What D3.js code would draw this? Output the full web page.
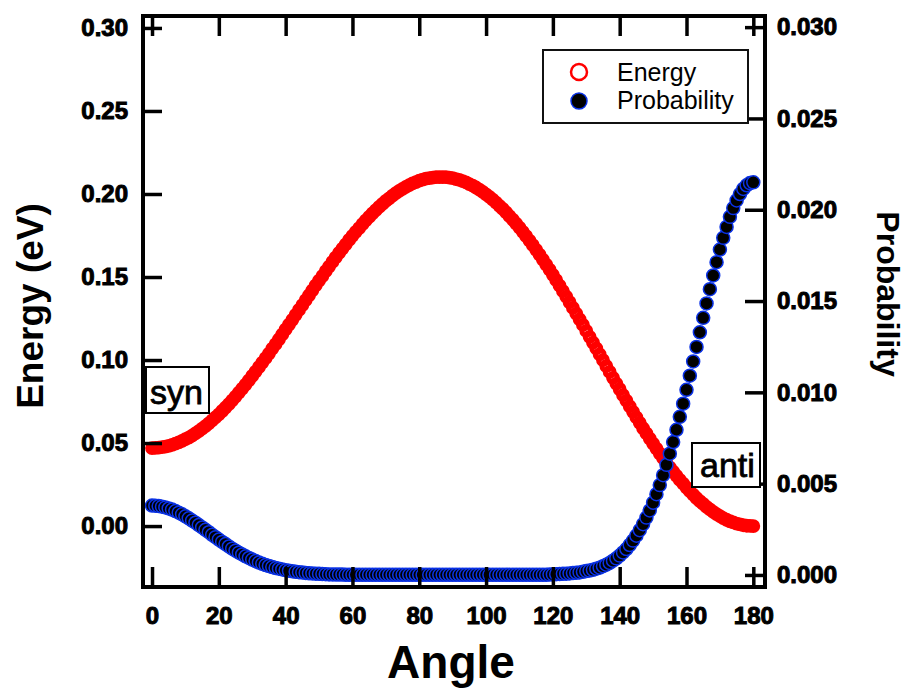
<!DOCTYPE html>
<html>
<head>
<meta charset="utf-8">
<script src="https://cdn.jsdelivr.net/npm/d3@7"></script>
<style>
  body { margin: 0; background: #fff; }
  svg { display: block; }
  text { font-family: "Liberation Sans", Arial, Helvetica, sans-serif; }
  .tick text { font-size: 24px; font-weight: bold; fill: #000; stroke: #000; stroke-width: 1px; }
  .tick line { stroke: #000; stroke-width: 3.5px; }
</style>
</head>
<body>
<svg id="chart" width="908" height="688"></svg>
<script>
// Torsion angle grid (degrees), one sample per degree
const angles = d3.range(0, 181, 1);

// Relative energy (eV) at each angle
const energy = [
  0.0470, 0.0471, 0.0472, 0.0475, 0.0479, 0.0483, 0.0489, 0.0496, 0.0504, 0.0513,
  0.0523, 0.0533, 0.0545, 0.0558, 0.0572, 0.0587, 0.0602, 0.0619, 0.0636, 0.0654,
  0.0673, 0.0693, 0.0714, 0.0735, 0.0757, 0.0780, 0.0804, 0.0828, 0.0852, 0.0878,
  0.0904, 0.0930, 0.0957, 0.0984, 0.1011, 0.1039, 0.1068, 0.1096, 0.1125, 0.1154,
  0.1184, 0.1213, 0.1242, 0.1272, 0.1302, 0.1331, 0.1361, 0.1390, 0.1420, 0.1449,
  0.1478, 0.1506, 0.1535, 0.1563, 0.1591, 0.1618, 0.1645, 0.1671, 0.1697, 0.1723,
  0.1748, 0.1772, 0.1795, 0.1818, 0.1841, 0.1862, 0.1883, 0.1903, 0.1922, 0.1940,
  0.1958, 0.1974, 0.1990, 0.2005, 0.2019, 0.2031, 0.2043, 0.2054, 0.2064, 0.2072,
  0.2080, 0.2086, 0.2092, 0.2096, 0.2099, 0.2101, 0.2102, 0.2102, 0.2101, 0.2099,
  0.2095, 0.2090, 0.2085, 0.2078, 0.2070, 0.2060, 0.2050, 0.2039, 0.2026, 0.2013,
  0.1998, 0.1983, 0.1966, 0.1948, 0.1929, 0.1910, 0.1889, 0.1867, 0.1845, 0.1821,
  0.1797, 0.1772, 0.1746, 0.1719, 0.1692, 0.1664, 0.1635, 0.1605, 0.1575, 0.1545,
  0.1513, 0.1481, 0.1448, 0.1415, 0.1382, 0.1348, 0.1314, 0.1280, 0.1245, 0.1211,
  0.1175, 0.1140, 0.1105, 0.1070, 0.1034, 0.0999, 0.0964, 0.0928, 0.0893, 0.0858,
  0.0824, 0.0789, 0.0755, 0.0721, 0.0688, 0.0654, 0.0622, 0.0589, 0.0558, 0.0527,
  0.0497, 0.0467, 0.0437, 0.0409, 0.0381, 0.0354, 0.0328, 0.0303, 0.0278, 0.0255,
  0.0232, 0.0210, 0.0189, 0.0169, 0.0150, 0.0133, 0.0116, 0.0100, 0.0086, 0.0072,
  0.0060, 0.0048, 0.0038, 0.0029, 0.0022, 0.0015, 0.0010, 0.0005, 0.0002, 0.0001,
  0.0000
];

// Population probability at each angle
const probability = [
  0.00380, 0.00379, 0.00377, 0.00374, 0.00370, 0.00364, 0.00358, 0.00350, 0.00341, 0.00332,
  0.00321, 0.00310, 0.00298, 0.00286, 0.00273, 0.00260, 0.00247, 0.00234, 0.00220, 0.00207,
  0.00194, 0.00181, 0.00169, 0.00156, 0.00144, 0.00133, 0.00122, 0.00112, 0.00102, 0.00093,
  0.00084, 0.00076, 0.00068, 0.00061, 0.00054, 0.00049, 0.00043, 0.00038, 0.00034, 0.00030,
  0.00026, 0.00023, 0.00020, 0.00017, 0.00015, 0.00013, 0.00011, 0.00009, 0.00008, 0.00007,
  0.00006, 0.00005, 0.00004, 0.00003, 0.00003, 0.00002, 0.00002, 0.00002, 0.00001, 0.00001,
  0.00001, 0.00001, 0.00001, 0.00001, 0.00001, 0.00001, 0.00001, 0.00001, 0.00001, 0.00001,
  0.00001, 0.00001, 0.00001, 0.00001, 0.00001, 0.00001, 0.00001, 0.00001, 0.00001, 0.00001,
  0.00001, 0.00001, 0.00001, 0.00001, 0.00001, 0.00001, 0.00001, 0.00001, 0.00001, 0.00001,
  0.00001, 0.00001, 0.00001, 0.00001, 0.00001, 0.00001, 0.00001, 0.00001, 0.00001, 0.00001,
  0.00001, 0.00001, 0.00001, 0.00001, 0.00001, 0.00001, 0.00001, 0.00001, 0.00001, 0.00001,
  0.00001, 0.00001, 0.00001, 0.00001, 0.00001, 0.00001, 0.00001, 0.00001, 0.00001, 0.00002,
  0.00003, 0.00004, 0.00005, 0.00006, 0.00007, 0.00008, 0.00010, 0.00012, 0.00014, 0.00017,
  0.00021, 0.00024, 0.00028, 0.00034, 0.00040, 0.00048, 0.00056, 0.00066, 0.00078, 0.00091,
  0.00106, 0.00123, 0.00142, 0.00164, 0.00188, 0.00215, 0.00245, 0.00278, 0.00314, 0.00353,
  0.00396, 0.00442, 0.00492, 0.00546, 0.00603, 0.00664, 0.00728, 0.00795, 0.00866, 0.00938,
  0.01014, 0.01091, 0.01169, 0.01249, 0.01329, 0.01408, 0.01487, 0.01565, 0.01640, 0.01713,
  0.01782, 0.01846, 0.01906, 0.01961, 0.02009, 0.02051, 0.02086, 0.02114, 0.02134, 0.02146,
  0.02150
];

// Tick values for the three axes
const angleTicks = [0, 20, 40, 60, 80, 100, 120, 140, 160, 180];
const energyTicks = [0, 0.05, 0.10, 0.15, 0.20, 0.25, 0.30];
const probTicks = [0, 0.005, 0.010, 0.015, 0.020, 0.025, 0.030];

// Series labels
const seriesNames = ["Energy", "Probability"];
const conformerLabels = ["syn", "anti"];

const svg = d3.select("#chart");
const plotLeft = 143, plotRight = 765, plotTop = 16, plotBottom = 587;

const x = d3.scaleLinear().domain([-2.7, 183.5]).range([plotLeft, plotRight]);
const yE = d3.scaleLinear().domain([-0.0367, 0.3072]).range([plotBottom, plotTop]);
const yP = d3.scaleLinear().domain([-0.00066, 0.03061]).range([plotBottom, plotTop]);

// Energy markers: open red circles, packed densely enough to read as a band
svg.append("g")
  .selectAll("circle")
  .data(energy)
  .join("circle")
  .attr("cx", (d, i) => x(angles[i]))
  .attr("cy", d => yE(d))
  .attr("r", 4.4)
  .attr("fill", "none")
  .attr("stroke", "#ff0000")
  .attr("stroke-width", 5);

// Probability markers: black discs with blue rims
svg.append("g")
  .selectAll("circle")
  .data(probability)
  .join("circle")
  .attr("cx", (d, i) => x(angles[i]))
  .attr("cy", d => yP(d))
  .attr("r", 6.5)
  .attr("fill", "#000")
  .attr("stroke", "#0a32e6")
  .attr("stroke-width", 1.5);

// Axes with inward ticks
const fmt2 = d3.format(".2f"), fmt3 = d3.format(".3f");

svg.append("g")
  .attr("transform", `translate(${plotLeft},0)`)
  .call(d3.axisLeft(yE).tickValues(energyTicks).tickFormat(fmt2)
    .tickSize(-19).tickSizeOuter(0).tickPadding(15))
  .call(g => g.select(".domain").remove());

svg.append("g")
  .attr("transform", `translate(${plotRight},0)`)
  .call(d3.axisRight(yP).tickValues(probTicks).tickFormat(fmt3)
    .tickSize(-20).tickSizeOuter(0).tickPadding(12))
  .call(g => g.select(".domain").remove());

svg.append("g")
  .attr("transform", `translate(0,${plotBottom})`)
  .call(d3.axisBottom(x).tickValues(angleTicks).tickFormat(d3.format("d"))
    .tickSize(-20).tickSizeOuter(0).tickPadding(20))
  .call(g => g.select(".domain").remove());

svg.append("g")
  .attr("transform", `translate(0,${plotTop})`)
  .call(d3.axisTop(x).tickValues(angleTicks).tickFormat("")
    .tickSize(-20).tickSizeOuter(0))
  .call(g => g.select(".domain").remove());

// Plot frame
svg.append("rect")
  .attr("x", plotLeft).attr("y", plotTop)
  .attr("width", plotRight - plotLeft).attr("height", plotBottom - plotTop)
  .attr("fill", "none").attr("stroke", "#000").attr("stroke-width", 4);

// Axis titles
svg.append("text")
  .attr("x", 451).attr("y", 678)
  .attr("text-anchor", "middle")
  .style("font-size", "46px").style("font-weight", "bold")
  .text("Angle");

svg.append("text")
  .attr("transform", "translate(43,306) rotate(-90)")
  .attr("text-anchor", "middle")
  .style("font-size", "37px").style("font-weight", "bold")
  .text("Energy (eV)");

svg.append("text")
  .attr("transform", "translate(877,294) rotate(90)")
  .attr("text-anchor", "middle")
  .style("font-size", "32px").style("font-weight", "bold")
  .text("Probability");

// Conformer labels in boxes
const boxes = [
  { x: 146, y: 367, w: 63, h: 46, tx: 150, ty: 404 },
  { x: 692, y: 443, w: 68, h: 44, tx: 700, ty: 477 }
];
boxes.forEach((b, i) => {
  svg.append("rect")
    .attr("x", b.x).attr("y", b.y).attr("width", b.w).attr("height", b.h)
    .attr("fill", "#fff").attr("stroke", "#000").attr("stroke-width", 2);
  svg.append("text")
    .attr("x", b.tx).attr("y", b.ty)
    .style("font-size", "34px")
    .style("stroke", "#000").style("stroke-width", "0.8px")
    .text(conformerLabels[i]);
});

// Legend
const legend = svg.append("g");
legend.append("rect")
  .attr("x", 543).attr("y", 50).attr("width", 205).attr("height", 73)
  .attr("fill", "#fff").attr("stroke", "#111").attr("stroke-width", 2);
legend.append("circle")
  .attr("cx", 579).attr("cy", 72).attr("r", 8)
  .attr("fill", "#fff").attr("stroke", "#ff0000").attr("stroke-width", 2.5);
legend.append("circle")
  .attr("cx", 579).attr("cy", 101).attr("r", 8)
  .attr("fill", "#000").attr("stroke", "#0a32e6").attr("stroke-width", 1.5);
seriesNames.forEach((name, i) => {
  legend.append("text")
    .attr("x", 617).attr("y", 81 + i * 28)
    .style("font-size", "25px")
    .text(name);
});
</script>
</body>
</html>
